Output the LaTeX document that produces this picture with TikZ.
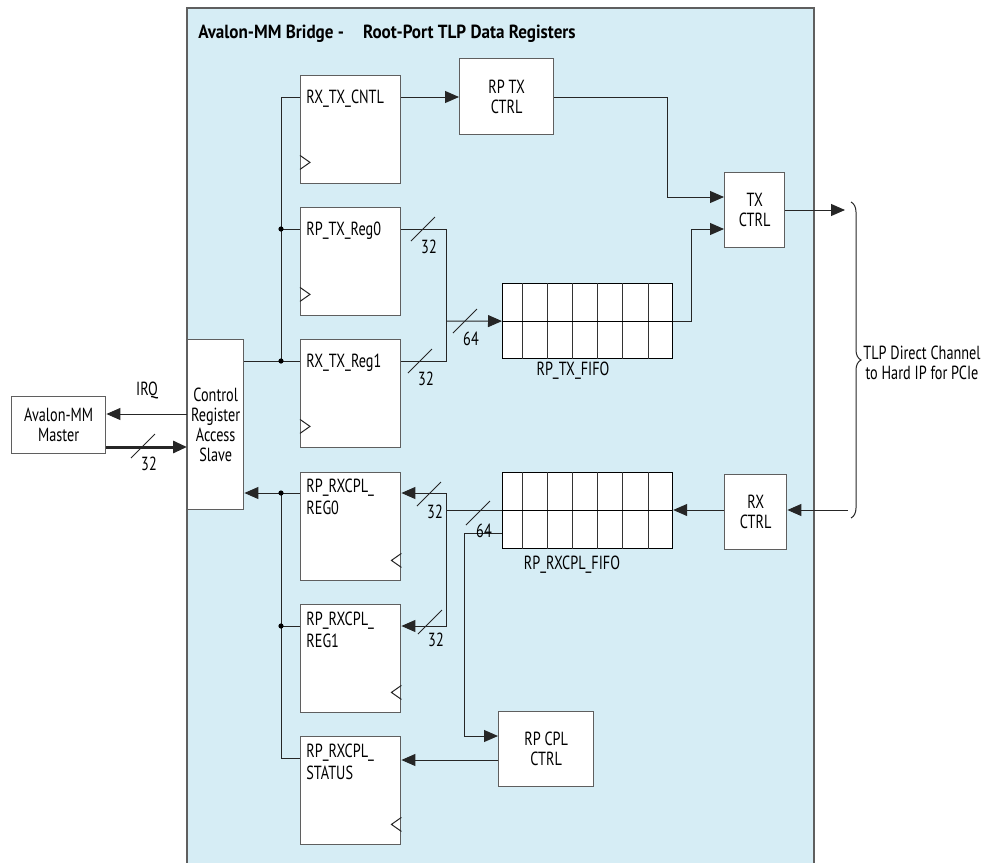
\documentclass[tikz,border=0pt]{standalone}
\usepackage{fontspec}
\setmainfont{PT Sans}[FakeStretch=0.75]
\newfontfamily\titlefont{PT Sans}[FakeStretch=0.9]
\usetikzlibrary{positioning, arrows.meta, calc, decorations.pathreplacing}
\definecolor{panelblue}{RGB}{214,237,245}
\definecolor{edgegray}{RGB}{95,95,95}

% bus-width slash with its number
\newcommand{\buswidth}[4]{%
  \draw[wire] (#2-12,#3+12) -- (#2+12,#3-12);
  \node[numlbl] (#1) at (#2+6,#3+18) {#4};}

\begin{document}
\begin{tikzpicture}[x=0.5pt, y=-0.5pt,
  font=\fontsize{9.5}{10}\selectfont,
  wire/.style={line width=0.5pt, black!85},
  arr/.style={wire, -{Triangle[length=7pt,width=6pt]}},
  reg/.style={draw=edgegray, fill=white, line width=0.7pt, minimum width=50pt,
              minimum height=54pt, inner sep=0pt, anchor=north west},
  blk/.style={draw=edgegray, fill=white, line width=0.7pt, align=center,
              inner sep=0pt, anchor=north west},
  fifo/.style={draw=black, fill=white, line width=0.6pt, minimum width=85pt,
               minimum height=37.5pt, inner sep=0pt, anchor=north west},
  reglbl/.style={anchor=north west, inner sep=0pt, align=left,
                 font=\fontsize{9.5}{11}\selectfont},
  numlbl/.style={inner sep=0pt}
]
  \useasboundingbox (0,0) rectangle (981,863);

  % bridge panel
  \fill[panelblue] (187,8) rectangle (814,880);
  \draw[edgegray, line width=0.7pt] (187,880) -- (187,8) -- (814,8) -- (814,880);
  \node[anchor=base west, inner sep=0pt, font=\fontsize{9.5}{10}\titlefont\bfseries] (title)
    at (198,38) {Avalon-MM Bridge -\quad Root-Port TLP Data Registers};

  % registers
  \node[reg] (cntl) at (300,75) {};
  \node[reg] (txr0) at (300,207) {};
  \node[reg] (txr1) at (300,339) {};
  \node[reg] (rxr0) at (300,472) {};
  \node[reg] (rxr1) at (300,604) {};
  \node[reg] (rxst) at (300,736) {};
  \node[reglbl] (cntl-t) at (306,90) {RX\_TX\_CNTL};
  \node[reglbl] (txr0-t) at (306,222) {RP\_TX\_Reg0};
  \node[reglbl] (txr1-t) at (306,354) {RX\_TX\_Reg1};
  \node[reglbl] (rxr0-t) at (306,479) {RP\_RXCPL\_\\REG0};
  \node[reglbl] (rxr1-t) at (306,612) {RP\_RXCPL\_\\REG1};
  \node[reglbl] (rxst-t) at (306,744) {RP\_RXCPL\_\\STATUS};

  % clock marks
  \foreach \r in {cntl, txr0, txr1}
    \draw[wire] ($(\r.south west)+(0,-29)$) -- ++(10,7) -- ++(-10,7);
  \foreach \r in {rxr0, rxr1, rxst}
    \draw[wire] ($(\r.south east)+(0,-28)$) -- ++(-10,7) -- ++(10,7);

  % other blocks
  \node[blk, minimum width=47pt, minimum height=38pt] (rptx) at (459,58) {RP TX\\CTRL};
  \node[blk, minimum width=30pt, minimum height=37.5pt] (txctl) at (724,172) {TX\\CTRL};
  \node[blk, minimum width=31pt, minimum height=37.5pt] (rxctl) at (724,474) {RX\\CTRL};
  \node[blk, minimum width=47.5pt, minimum height=37.5pt] (rpcpl) at (498,711) {RP CPL\\CTRL};
  \node[blk, minimum width=28pt, minimum height=85pt] (crs) at (187,339) {Control\\Register\\Access\\Slave};
  \node[blk, minimum width=47pt, minimum height=28.5pt] (mst) at (11,396) {Avalon-MM\\Master};

  % FIFOs
  \node[fifo] (txf) at (502,283) {};
  \node[fifo, minimum height=38pt] (rxf) at (502,472) {};
  \foreach \f in {txf, rxf} {
    \foreach \dx in {20,45,70,95,120,146}
      \draw[black!80, line width=0.5pt] ($(\f.north west)+(\dx,0)$) -- ($(\f.south west)+(\dx,0)$);
    \draw[black, line width=0.5pt] (\f.west) -- (\f.east);
  }
  \node (txf-t) at (573,371) {RP\_TX\_FIFO};
  \node (rxf-t) at (572,565) {RP\_RXCPL\_FIFO};

  % write bus
  \coordinate (busTop) at (281,97);
  \coordinate (busR0) at (281,229);
  \coordinate (busR1) at (281,361);
  \draw[wire] (cntl.west |- busTop) -- (busTop) -- (busR1);
  \draw[wire] (busR0) -- (txr0.west |- busR0);
  \draw[wire] (crs.east |- busR1) -- (txr1.west |- busR1);
  \fill (busR0) circle (1.3pt);
  \fill (busR1) circle (1.3pt);

  % read bus
  \coordinate (busX0) at (281,493);
  \coordinate (busX1) at (281,626);
  \coordinate (busX2) at (281,758);
  \draw[arr] (rxr0.west |- busX0) -- (crs.east |- busX0);
  \draw[wire] (busX0) -- (busX2) -- (rxst.west |- busX2);
  \draw[wire] (busX1) -- (rxr1.west |- busX1);
  \fill (busX0) circle (1.3pt);
  \fill (busX1) circle (1.3pt);

  % TX path
  \draw[arr] (cntl.east |- busTop) -- (rptx.west |- busTop);
  \draw[arr] (rptx.east |- busTop) -- (667,97) |- (txctl.west |- 0,197);
  \draw[wire] (txr0.east |- busR0) -- (446,229) -- (446,361) -- (txr1.east |- busR1);
  \draw[arr] (446,321) -- (txf.west);
  \draw[arr] (txf.east) -| (691,229) -- (txctl.west |- 0,229);
  \coordinate (tlpTx) at (845,210);
  \draw[arr] (txctl.east |- tlpTx) -- (tlpTx);
  \buswidth{w1}{423}{229}{32}
  \buswidth{w2}{420}{361}{32}
  \buswidth{w3}{465}{321}{64}

  % RX path
  \coordinate (tlpRx) at (848,510);
  \draw[arr] (tlpRx) -- (rxctl.east |- tlpRx);
  \draw[arr] (rxctl.west |- tlpRx) -- (rxf.east |- tlpRx);
  \draw[wire] (rxf.west |- tlpRx) -- (446,510);
  \draw[arr] (446,510) |- (rxr0.east |- busX0);
  \draw[arr] (446,510) |- (rxr1.east |- busX1);
  \draw[arr] (rxf.west |- 0,533) -| (464,736) -- (rpcpl.west |- 0,736);
  \draw[arr] (rpcpl.west |- 0,760) -- (rxst.east |- 0,760);
  \buswidth{w4}{429}{494}{32}
  \buswidth{w5}{478}{513}{64}
  \buswidth{w6}{430}{622}{32}

  % master side
  \draw[arr] (crs.west |- 0,414) -- (mst.east |- 0,414);
  \node (irq) at (147,390) {IRQ};
  \draw[arr, line width=1.5pt] (mst.east |- 0,447) -- (crs.west |- 0,447);
  \buswidth{w0}{143}{446}{32}

  % hard IP side
  \coordinate (brTop) at (851,202);
  \coordinate (brBot) at (851,518);
  \draw[wire, decorate, decoration={brace, amplitude=5pt}] (brTop) -- (brBot);
  \node[align=center] (tlp) at (922,363) {TLP Direct Channel\\to Hard IP for PCIe};
\end{tikzpicture}
\end{document}
